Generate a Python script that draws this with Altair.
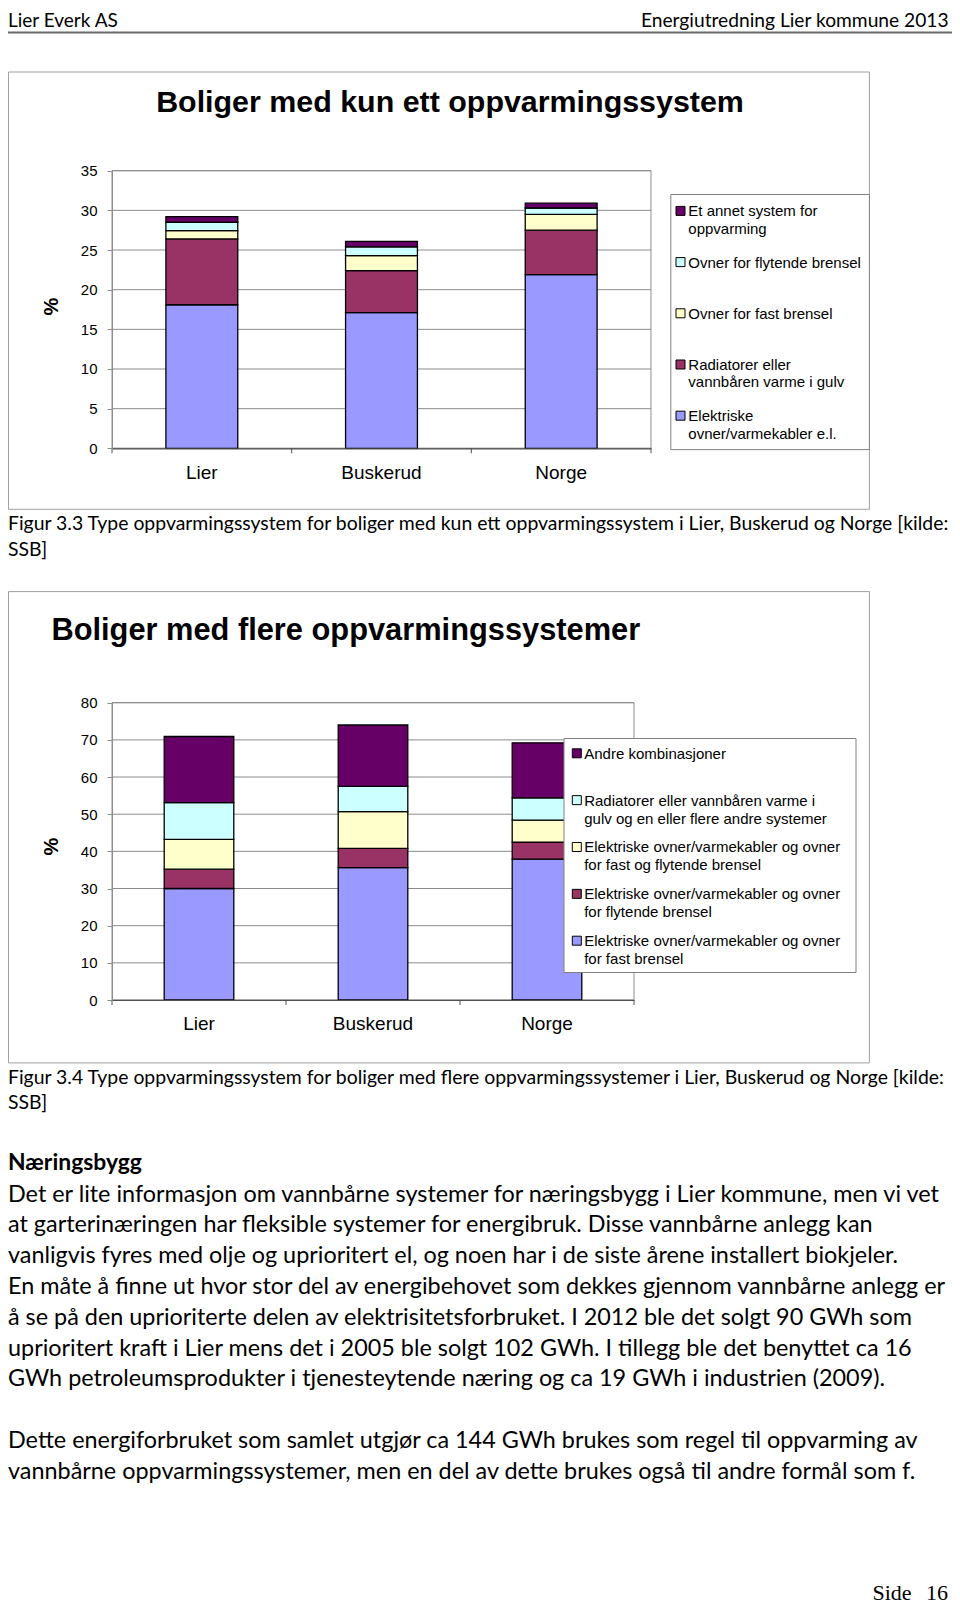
import altair as alt
import pandas as pd

# ---------------- data ----------------
regions = ["Lier", "Buskerud", "Norge"]

# Chart 1: Boliger med kun ett oppvarmingssystem (bottom -> top)
cats1 = [
    "Elektriske\novner/varmekabler e.l.",
    "Radiatorer eller\nvannbåren varme i gulv",
    "Ovner for fast brensel",
    "Ovner for flytende brensel",
    "Et annet system for\noppvarming",
]
elektriske1 = [18.1, 17.1, 21.9]
radiatorer1 = [8.3, 5.3, 5.6]
fast1 = [1.05, 1.9, 2.0]
flytende1 = [1.05, 1.1, 0.8]
annet1 = [0.7, 0.7, 0.6]
yticks1 = [0, 5, 10, 15, 20, 25, 30, 35]

# Chart 2: Boliger med flere oppvarmingssystemer (bottom -> top)
cats2 = [
    "Elektriske ovner/varmekabler og ovner\nfor fast brensel",
    "Elektriske ovner/varmekabler og ovner\nfor flytende brensel",
    "Elektriske ovner/varmekabler og ovner\nfor fast og flytende brensel",
    "Radiatorer eller vannbåren varme i\ngulv og en eller flere andre systemer",
    "Andre kombinasjoner",
]
el_fast2 = [30.0, 35.6, 37.9]
el_flyt2 = [5.2, 5.2, 4.6]
el_fastflyt2 = [8.0, 9.9, 5.9]
radiatorer2 = [9.9, 6.8, 6.0]
andre2 = [17.8, 16.5, 14.8]
yticks2 = [0, 10, 20, 30, 40, 50, 60, 70, 80]

colors = ["#9999FF", "#993366", "#FFFFCC", "#CCFFFF", "#660066"]
boundaries = [0, 1, 2, 3]

title1 = "Boliger med kun ett oppvarmingssystem"
title2 = "Boliger med flere oppvarmingssystemer"
header_left = "Lier Everk AS"
header_right = "Energiutredning Lier kommune 2013"
caption1 = ["Figur 3.3 Type oppvarmingssystem for boliger med kun ett oppvarmingssystem i Lier, Buskerud og Norge [kilde:",
            "SSB]"]
caption2 = ["Figur 3.4 Type oppvarmingssystem for boliger med flere oppvarmingssystemer i Lier, Buskerud og Norge [kilde:",
            "SSB]"]
heading = "Næringsbygg"
para1 = [
    "Det er lite informasjon om vannbårne systemer for næringsbygg i Lier kommune, men vi vet",
    "at garterinæringen har fleksible systemer for energibruk. Disse vannbårne anlegg kan",
    "vanligvis fyres med olje og uprioritert el, og noen har i de siste årene installert biokjeler.",
    "En måte å finne ut hvor stor del av energibehovet som dekkes gjennom vannbårne anlegg er",
    "å se på den uprioriterte delen av elektrisitetsforbruket. I 2012 ble det solgt 90 GWh som",
    "uprioritert kraft i Lier mens det i 2005 ble solgt 102 GWh. I tillegg ble det benyttet ca 16",
    "GWh petroleumsprodukter i tjenesteytende næring og ca 19 GWh i industrien (2009).",
]
para2 = [
    "Dette energiforbruket som samlet utgjør ca 144 GWh brukes som regel til oppvarming av",
    "vannbårne oppvarmingssystemer, men en del av dette brukes også til andre formål som f.",
]
page_word = "Side"
page_no = "16"

# ---------------- tables ----------------
def long_table(cats, series):
    rows = []
    for k, (c, vals) in enumerate(zip(cats, series)):
        for r, v in zip(regions, vals):
            rows.append({"region": r, "cat": c, "value": v, "ord": k})
    return pd.DataFrame(rows)

df1 = long_table(cats1, [elektriske1, radiatorer1, fast1, flytende1, annet1])
df2 = long_table(cats2, [el_fast2, el_flyt2, el_fastflyt2, radiatorer2, andre2])
leg1 = pd.DataFrame({"cat": cats1[::-1], "rank": list(range(len(cats1)))})
leg2 = pd.DataFrame({"cat": cats2[::-1], "rank": list(range(len(cats2)))})
one = pd.DataFrame({"k": [0]})

W, H = 944, 1597
ARIAL = "Liberation Sans"
BODY = "Lato"
GRID = "#8c8c8c"


def text(t, x, y, size, font=BODY, weight="normal", align="left", lh=None, angle=None):
    kw = dict(text=t, font=font, fontSize=size, fontWeight=weight, align=align,
              baseline="alphabetic", color="black")
    if lh is not None:
        kw["lineHeight"] = lh
    if angle is not None:
        kw["angle"] = angle
        kw["baseline"] = "middle"
        kw["align"] = "center"
    return alt.Chart(one).mark_text(**kw).encode(x=alt.value(x), y=alt.value(y))


def box(x1, x2, y1, y2, stroke, fill=None, sw=1):
    if fill is None:
        m = alt.Chart(one).mark_rect(filled=False, stroke=stroke, strokeWidth=sw)
    else:
        m = alt.Chart(one).mark_rect(fill=fill, stroke=stroke, strokeWidth=sw)
    return m.encode(x=alt.value(x1), x2=alt.value(x2), y=alt.value(y1), y2=alt.value(y2))


def bar_chart(df, cats, yticks, ymax, px0, px1, py0, py1, label_pad):
    yscale = alt.Scale(domain=[0, ymax], range=[py0, py1], nice=False, zero=True)
    grid = alt.Chart(pd.DataFrame({"v": yticks})).mark_rule(color=GRID, strokeWidth=1).encode(
        y=alt.Y("v:Q", scale=yscale, axis=None),
        x=alt.value(px0), x2=alt.value(px1))
    border = box(px0, px1, py1, py0, GRID)
    yaxis = alt.Axis(values=yticks, orient="left", offset=-px0, tickSize=5, labelPadding=10,
                     labelFont=ARIAL, labelFontSize=15, labelColor="black",
                     domainColor=GRID, tickColor=GRID, grid=False, title=None,
                     labelFlush=False, labelOverlap=False, zindex=1)
    xaxis = alt.Axis(orient="bottom", offset=-(H - py0), ticks=False, tickSize=0,
                     domain=True, domainColor="#505050", domainWidth=1.2,
                     labelPadding=label_pad, labelFont=ARIAL, labelFontSize=19,
                     labelColor="black", labelAngle=0, title=None, grid=False, zindex=1)
    bars = alt.Chart(df).mark_bar(stroke="black", strokeWidth=1.3).encode(
        x=alt.X("region:N", sort=regions,
                scale=alt.Scale(domain=regions, range=[px0, px1], paddingInner=0.6, paddingOuter=0.3),
                axis=xaxis),
        y=alt.Y("value:Q", stack="zero", scale=yscale, axis=yaxis),
        color=alt.Color("cat:N", scale=alt.Scale(domain=cats, range=colors), legend=None),
        order=alt.Order("ord:Q"))
    ticks = alt.Chart(pd.DataFrame({"b": boundaries})).mark_rule(color="#505050", strokeWidth=1).encode(
        x=alt.X("b:Q", scale=alt.Scale(domain=[0, 3], range=[px0, px1]), axis=None),
        y=alt.value(py0), y2=alt.value(py0 + 5))
    return [grid, border, bars, ticks]


def legend(df, cats, bx0, bx1, by0, by1, sqx, tx, c0, c1, lh):
    sc = alt.Scale(domain=[0, len(cats) - 1], range=[c0, c1])
    frame = box(bx0, bx1, by0, by1, "#808080", fill="white")
    sq = alt.Chart(df).mark_square(size=81, opacity=1, stroke="black", strokeWidth=1).encode(
        x=alt.value(sqx),
        y=alt.Y("rank:Q", scale=sc, axis=None),
        color=alt.Color("cat:N", scale=alt.Scale(domain=cats, range=colors), legend=None))
    tx_ = alt.Chart(df).mark_text(align="left", baseline="alphabetic", dy=5.4, lineBreak="\n",
                                  lineHeight=lh, font=ARIAL, fontSize=15, color="black").encode(
        x=alt.value(tx),
        y=alt.Y("rank:Q", scale=sc, axis=None),
        text="cat:N")
    return [frame, sq, tx_]


layers = []
# header
layers.append(text(header_left, 0, 19, 19))
layers.append(text(header_right, 940.6, 19, 19.2, align="right"))
layers.append(alt.Chart(one).mark_rule(color="#6a6a6a", strokeWidth=2).encode(
    x=alt.value(0), x2=alt.value(W), y=alt.value(24.5)))

# chart 1
layers.append(box(0.5, 861.4, 64, 501.3, "#a0a0a0"))
layers += bar_chart(df1, cats1, yticks1, 35, 104, 643, 440.3, 162.7, 15.2)
layers += legend(leg1, cats1, 662.8, 861.4, 186.5, 441.6, 672.5, 680.3, 202.9, 407.7, 17.5)
layers.append(text(title1, 442, 103.7, 30.4, font=ARIAL, weight="bold", align="center"))
layers.append(text("%", 43.7, 298.6, 20, font=ARIAL, weight="bold", angle=270))
layers.append(text(caption1, 0, 522, 19.4, lh=25.7))

# chart 2
layers.append(box(0.5, 861.4, 583.6, 1054.9, "#a0a0a0"))
layers += bar_chart(df2, cats2, yticks2, 80, 104, 626, 992, 694.7, 14.8)
layers += legend(leg2, cats2, 556, 848, 730.5, 964.5, 568.8, 576.2, 745.3, 932.7, 18)
layers.append(text(title2, 43.4, 632.4, 30.8, font=ARIAL, weight="bold"))
layers.append(text("%", 43.7, 838.7, 20, font=ARIAL, weight="bold", angle=270))
layers.append(text(caption2, 0, 1075.6, 19.4, lh=25.7))

# body text
layers.append(text(heading, 0, 1162, 22.9, weight="bold"))
layers.append(text(para1, 0, 1193.7, 23.4, lh=30.8))
layers.append(text(para2, 0, 1440.1, 23.4, lh=30.8))
layers.append(text(page_word, 864.5, 1592, 22, font="Liberation Serif"))
layers.append(text(page_no, 940, 1592, 22, font="Liberation Serif", align="right"))

chart = alt.layer(*layers).resolve_scale(
    x="independent", y="independent", color="independent"
).properties(
    width=W, height=H, padding=0, autosize=alt.AutoSizeParams(type="none")
).configure_view(stroke="transparent")

chart.save("out.html", embed_options={"renderer": "svg", "actions": False})
